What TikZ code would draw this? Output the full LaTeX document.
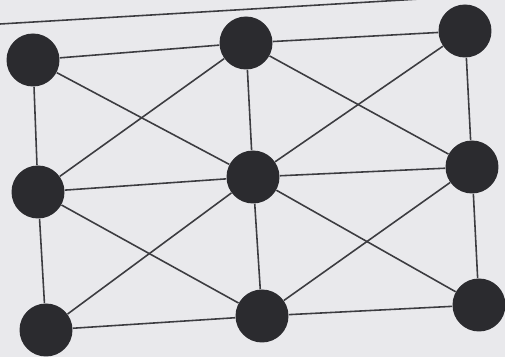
\documentclass[tikz,border=0pt]{standalone}
\usepackage{xcolor}
\usepackage{tikz}
\usetikzlibrary{positioning, calc}

\definecolor{bggray}{HTML}{E9E9EC}
\definecolor{dotgray}{HTML}{2B2B2F}
\definecolor{linegray}{HTML}{3C3C40}

\tikzset{
    vertex/.style={circle, fill=dotgray, minimum size=1.06cm, inner sep=0pt},
    link/.style={draw=linegray, line width=0.9pt}
}

\begin{document}
\begin{tikzpicture}[x=0.02cm, y=-0.02cm]
    % 背景
    \fill[bggray] (0, 0) rectangle (505, 357);
    \useasboundingbox (0, 0) rectangle (505, 357);

    % 上方横线
    \coordinate (r1) at (0, 24);
    \coordinate (r2) at (420, -1);
    \draw[link] (r1) -- (r2);

    % 节点
    \node[vertex] (tl) at (33, 60) {};
    \node[vertex] (tm) at (246, 43) {};
    \node[vertex] (tr) at (465, 31) {};
    \node[vertex] (ml) at (38, 192) {};
    \node[vertex] (mm) at (253, 177) {};
    \node[vertex] (mr) at (472, 167) {};
    \node[vertex] (bl) at (46, 330) {};
    \node[vertex] (bm) at (262, 316) {};
    \node[vertex] (br) at (479, 305) {};

    % 网格边
    \begin{scope}[on background layer/.try]
        \draw[link] (tl) -- (tm) -- (tr);
        \draw[link] (ml) -- (mm) -- (mr);
        \draw[link] (bl) -- (bm) -- (br);
        \draw[link] (tl) -- (ml) -- (bl);
        \draw[link] (tm) -- (mm) -- (bm);
        \draw[link] (tr) -- (mr) -- (br);
        % 对角线
        \draw[link] (tl) -- (mm) -- (br);
        \draw[link] (tm) -- (ml);
        \draw[link] (tm) -- (mr);
        \draw[link] (tr) -- (mm) -- (bl);
        \draw[link] (ml) -- (bm);
        \draw[link] (mr) -- (bm);
    \end{scope}
\end{tikzpicture}
\end{document}
